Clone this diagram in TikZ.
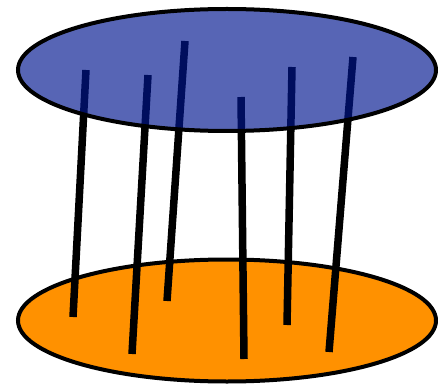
\documentclass[tikz,border=0pt]{standalone}
\usepackage{tikz}
\usetikzlibrary{shapes.geometric}
\definecolor{mydisk}{RGB}{0,22,143}
\definecolor{myorange}{RGB}{255,145,0}
\tikzset{
  disk/.style={ellipse, draw=black, line width=4pt, inner sep=0pt,
    minimum width=418pt, minimum height=122pt},
  rod/.style={line width=7.5pt, color=black, line cap=butt}
}
\begin{document}
\begin{tikzpicture}[x=1pt, y=-1pt]
  \useasboundingbox (0,0) rectangle (438,387);
  \node[disk, fill=myorange] (base) at (227,320.5) {};
  \coordinate (t1) at (86,70);   \coordinate (b1) at (73,317);
  \coordinate (t2) at (148,75);  \coordinate (b2) at (132,354);
  \coordinate (t3) at (185,41);  \coordinate (b3) at (167,301);
  \coordinate (t4) at (241,97);  \coordinate (b4) at (244,359);
  \coordinate (t5) at (292,67);  \coordinate (b5) at (287,325);
  \coordinate (t6) at (353,57);  \coordinate (b6) at (329,352);
  \draw[rod] (t1) -- (b1);
  \draw[rod] (t2) -- (b2);
  \draw[rod] (t3) -- (b3);
  \draw[rod] (t4) -- (b4);
  \draw[rod] (t5) -- (b5);
  \draw[rod] (t6) -- (b6);
  \node[disk, fill=mydisk, fill opacity=0.66] (lid) at (227,70) {};
\end{tikzpicture}
\end{document}
